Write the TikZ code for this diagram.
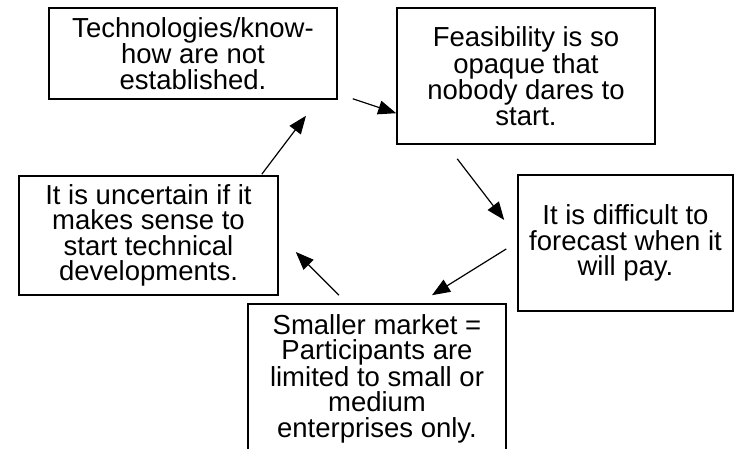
\documentclass[tikz,border=0pt]{standalone}
\usepackage{fontspec}
\setmainfont{Liberation Sans}
\usetikzlibrary{%
  arrows.meta,%
  calc%
}
\tikzset{>={Triangle[length=18pt,width=14pt]}}
\tikzset{
  box/.style={draw,line width=1.6pt,inner sep=0pt,align=center,
    font=\fontsize{27.5}{25.5}\selectfont},
  arr/.style={->,line width=1.2pt}
}

\begin{document}
\begin{tikzpicture}[x=1pt,y=-1pt]
    \useasboundingbox (0,0) rectangle (736,449);
    \node[box,minimum width=288pt,minimum height=91pt] (tech) at (193,53.5) {Technologies/know-\\how are not\\established.};
    \node[box,minimum width=258pt,minimum height=136pt] (feas) at (526,76) {Feasibility is so\\opaque that\\nobody dares to\\start.};
    \node[box,minimum width=215pt,minimum height=136pt] (fore) at (625.5,243) {It is difficult to\\forecast when it\\will pay.};
    \node[box,minimum width=259pt,minimum height=119pt] (unc) at (148.5,235.5) {It is uncertain if it\\makes sense to\\start technical\\developments.};
    \node[box,minimum width=258pt,minimum height=149pt] (mkt) at (377,378.5) {Smaller market =\\Participants are\\limited to small or\\medium\\enterprises only.};
    \draw[arr] ($(tech.south east)+(15,-1)$) -- (feas.196);
    \draw[arr] ($(feas.south west)+(61,14)$) -- ($(fore.west)+(-13,-23)$);
    \draw[arr] ($(fore.west)+(-11,6)$) -- ($(mkt.north)+(55,-8)$);
    \draw[arr] ($(mkt.north)+(-38,-8)$) -- ($(unc.east)+(17,16.5)$);
    \draw[arr] ($(unc.north east)+(-17,-1)$) -- ($(tech.south)+(113,16)$);
\end{tikzpicture}
\end{document}
